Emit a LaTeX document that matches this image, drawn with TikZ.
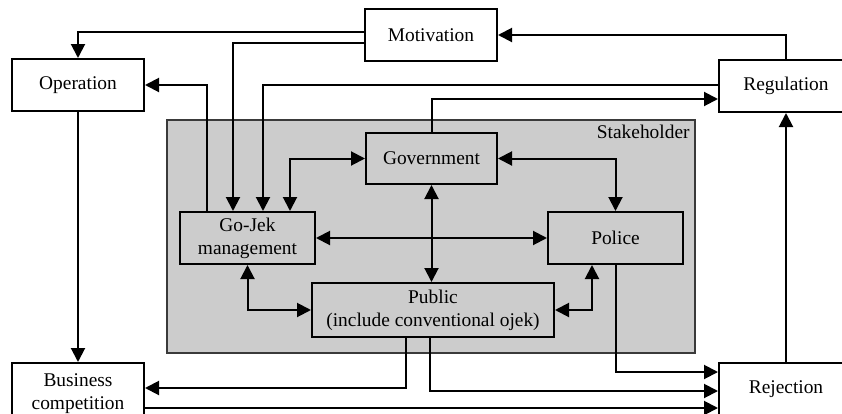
\documentclass[tikz,border=0pt]{standalone}
\usepackage{fontspec}
\setmainfont{Liberation Serif}
\usetikzlibrary{arrows.meta}
\definecolor{stkgray}{HTML}{CCCCCC}
\definecolor{stkborder}{HTML}{3A3A3A}
\begin{document}
\begin{tikzpicture}[x=0.5pt,y=-0.5pt,
  box/.style={draw=black,line width=1pt,fill=white,inner sep=0pt,align=center,font=\fontsize{9.7pt}{11.6pt}\selectfont},
  gbox/.style={box,fill=stkgray},
  tip/.tip={Triangle[length=7pt,width=7pt]},
  conn/.style={line width=1pt,-tip},
  both/.style={line width=1pt,tip-tip}]
\useasboundingbox (0,0) rectangle (842,413);
\clip (0,0) rectangle (842,413);
\fill[white] (0,0) rectangle (842,413);
% stakeholder area
\draw[fill=stkgray,draw=stkborder,line width=0.7pt] (167,120) rectangle (695,353);
\node[anchor=north east,inner sep=0pt,font=\fontsize{9.7pt}{11.6pt}\selectfont] (stk) at (690,125) {Stakeholder};
% boxes
\node[box,minimum width=66pt,minimum height=26pt] (mot) at (431,35) {Motivation};
\node[box,minimum width=66pt,minimum height=26pt] (op) at (78,85) {Operation};
\node[box,minimum width=67pt,minimum height=26pt] (reg) at (786,86) {Regulation};
\node[gbox,minimum width=65.5pt,minimum height=25.5pt] (gov) at (431.5,158.5) {Government};
\node[gbox,minimum width=67.5pt,minimum height=26pt] (gojek) at (247.5,238) {Go-Jek\\management};
\node[gbox,minimum width=67.5pt,minimum height=26pt] (pol) at (615.5,238) {Police};
\node[gbox,minimum width=121pt,minimum height=27pt] (pub) at (433,310) {Public\\(include conventional ojek)};
\node[box,minimum width=66pt,minimum height=31pt] (bus) at (78,394) {Business\\competition};
\node[box,minimum width=67pt,minimum height=26pt] (rej) at (786,389) {Rejection};
% connectors
\draw[conn] (mot.west |- 0,32) -| (op.north);
\draw[conn] (mot.west |- 0,43) -| (gojek.north -| 233,0);
\draw[conn] (reg.west |- 0,85) -| (gojek.north -| 263,0);
\draw[both] (gojek.north -| 290,0) |- (gov.west);
\draw[conn] (gojek.north -| 207,0) |- (op.east);
\draw[conn] (gov.north) |- (reg.west |- 0,99);
\draw[conn] (reg.north) |- (mot.east);
\draw[both] (gov.east) -| (pol.north);
\draw[both] (gov.south) -- (pub.north -| gov.south);
\draw[both] (gojek.east) -- (pol.west);
\draw[both] (gojek.south) |- (pub.west);
\draw[both] (pub.east) -| (pol.south -| 592,0);
\draw[conn] (op.south) -- (bus.north);
\draw[conn] (pub.south -| 406,0) |- (bus.east |- 0,388);
\draw[conn] (pub.south -| 430,0) |- (rej.west |- 0,391);
\draw[conn] (pol.south) |- (rej.west |- 0,372);
\draw[conn] (bus.east |- 0,408) -- (rej.west |- 0,408);
\draw[conn] (rej.north) -- (reg.south);
\end{tikzpicture}
\end{document}
